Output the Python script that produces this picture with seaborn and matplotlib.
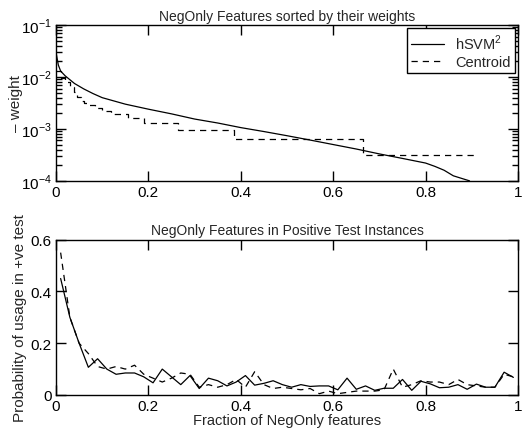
import numpy as np
import pandas as pd
import matplotlib
matplotlib.use("Agg")
import matplotlib.pyplot as plt
import seaborn as sns
from matplotlib.ticker import FixedLocator, NullFormatter, FixedFormatter

# ---- data ----
hsvm_x = [0, 0.005, 0.01, 0.02, 0.04, 0.06, 0.08, 0.1, 0.15, 0.2, 0.25, 0.3, 0.35,
          0.4, 0.45, 0.5, 0.55, 0.6, 0.65, 0.7, 0.75, 0.8, 0.82, 0.84, 0.86, 0.88, 0.895]
hsvm_w = [3e-2, 1.7e-2, 1.3e-2, 1.05e-2, 7.5e-3, 5.9e-3, 4.8e-3, 4.0e-3, 3.0e-3, 2.4e-3,
          1.95e-3, 1.55e-3, 1.3e-3, 1.06e-3, 8.9e-4, 7.4e-4, 6.1e-4, 5.0e-4, 4.1e-4,
          3.3e-4, 2.7e-4, 2.2e-4, 1.9e-4, 1.6e-4, 1.25e-4, 1.1e-4, 1.0e-4]

cent_x = [0, 0.01, 0.02, 0.03, 0.038, 0.046, 0.053, 0.06, 0.07, 0.085, 0.1, 0.12,
          0.155, 0.19, 0.265, 0.385, 0.665, 0.905]
cent_w = [1.28e-2, 9.6e-3, 8e-3, 6.4e-3, 5.1e-3, 4.2e-3, 3.5e-3, 3.2e-3, 2.9e-3, 2.56e-3,
          2.24e-3, 1.92e-3, 1.6e-3, 1.28e-3, 9.6e-4, 6.4e-4, 3.2e-4, 3.2e-4]

frac_x = [round(0.01 + 0.02 * i, 2) for i in range(50)]
hsvm_p = [0.45, 0.30, 0.20, 0.107, 0.14, 0.10, 0.08, 0.085, 0.085, 0.07,
          0.047, 0.10, 0.07, 0.04, 0.075, 0.025, 0.065, 0.055, 0.035, 0.05,
          0.075, 0.038, 0.045, 0.055, 0.04, 0.03, 0.04, 0.033, 0.035, 0.035,
          0.02, 0.065, 0.022, 0.035, 0.018, 0.026, 0.026, 0.06, 0.018, 0.053,
          0.043, 0.028, 0.03, 0.04, 0.022, 0.042, 0.03, 0.03, 0.088, 0.068]
cent_p = [0.55, 0.30, 0.20, 0.16, 0.11, 0.10, 0.11, 0.10, 0.115, 0.08,
          0.065, 0.05, 0.065, 0.085, 0.08, 0.03, 0.04, 0.03, 0.04, 0.06,
          0.03, 0.09, 0.04, 0.025, 0.03, 0.025, 0.02, 0.025, 0.005, 0.015,
          0.005, 0.01, 0.015, 0.015, 0.015, 0.02, 0.10, 0.03, 0.04, 0.055,
          0.05, 0.05, 0.04, 0.06, 0.04, 0.035, 0.03, 0.03, 0.08, 0.07]

xticks = [0, 0.2, 0.4, 0.6, 0.8, 1]
xticklabels = ["0", "0.2", "0.4", "0.6", "0.8", "1"]
yticks_top = [1e-4, 1e-3, 1e-2, 1e-1]
yticklabels_top = ["$10^{-4}$", "$10^{-3}$", "$10^{-2}$", "$10^{-1}$"]
yticks_bottom = [0, 0.2, 0.4, 0.6]
yticklabels_bottom = ["0", "0.2", "0.4", "0.6"]

sns.set_style("ticks")
plt.rcParams['font.family'] = ['Liberation Sans', 'DejaVu Sans']
plt.rcParams['font.size'] = 11
plt.rcParams['mathtext.fontset'] = 'custom'
plt.rcParams['mathtext.rm'] = 'Liberation Sans'

fig = plt.figure(figsize=(5.31, 4.35), dpi=100)
ax1 = fig.add_axes([0.1055, 0.582, 0.87, 0.358])
ax2 = fig.add_axes([0.1055, 0.0897, 0.87, 0.357])

df_h = pd.DataFrame({"x": hsvm_x, "w": hsvm_w})
df_c = pd.DataFrame({"x": cent_x, "w": cent_w})
sns.lineplot(data=df_h, x="x", y="w", ax=ax1, color="black", lw=0.9,
             estimator=None, label="hSVM$^2$")
sns.lineplot(data=df_c, x="x", y="w", ax=ax1, color="black", lw=0.9,
             estimator=None, drawstyle="steps-post", linestyle=(0, (5, 4)),
             label="Centroid")
ax1.set_yscale("log")
ax1.set_xlim(0, 1)
ax1.set_ylim(1e-4, 1e-1)
ax1.set_xticks(xticks)
ax1.set_xticklabels(xticklabels)
ax1.yaxis.set_major_locator(FixedLocator(yticks_top))
ax1.yaxis.set_major_formatter(FixedFormatter(yticklabels_top))
minor_top = [m * 10.0 ** e for e in (-4, -3, -2) for m in range(2, 10)]
ax1.yaxis.set_minor_locator(FixedLocator(minor_top))
ax1.yaxis.set_minor_formatter(NullFormatter())
ax1.set_title("NegOnly Features sorted by their weights", fontsize=10, pad=4)
ax1.set_ylabel("– weight", fontsize=11)
ax1.yaxis.set_label_coords(-0.071, 0.5)
ax1.set_xlabel("")
leg = ax1.legend(loc="upper right", fontsize=10.5, frameon=True, fancybox=False,
                 edgecolor="black", framealpha=1, borderaxespad=0.2,
                 handlelength=2.2, labelspacing=0.2, borderpad=0.3)
leg.get_frame().set_linewidth(1.0)

df_hp = pd.DataFrame({"x": frac_x, "p": hsvm_p})
df_cp = pd.DataFrame({"x": frac_x, "p": cent_p})
sns.lineplot(data=df_hp, x="x", y="p", ax=ax2, color="black", lw=0.9, estimator=None)
sns.lineplot(data=df_cp, x="x", y="p", ax=ax2, color="black", lw=0.9, estimator=None,
             linestyle=(0, (5, 4)))
ax2.set_xlim(0, 1)
ax2.set_ylim(0, 0.6)
ax2.set_xticks(xticks)
ax2.set_xticklabels(xticklabels)
ax2.set_yticks(yticks_bottom)
ax2.set_yticklabels(yticklabels_bottom)
ax2.set_title("NegOnly Features in Positive Test Instances", fontsize=10, pad=4)
ax2.set_xlabel("Fraction of NegOnly features", fontsize=10.5, labelpad=0)
ax2.set_ylabel("Probability of usage in +ve test", fontsize=11)
ax2.yaxis.set_label_coords(-0.063, 0.5)

for ax in (ax1, ax2):
    for s in ax.spines.values():
        s.set_linewidth(1.0)
        s.set_color("black")
    ax.tick_params(which="major", direction="in", length=7.5, width=1.0,
                   top=True, right=True, labelsize=11, pad=3, colors="black")

ax1.tick_params(which="minor", direction="in", length=4.5, width=1.0,
                left=True, right=True, top=False, bottom=False, colors="black")

fig.savefig("out.png", dpi=100)
